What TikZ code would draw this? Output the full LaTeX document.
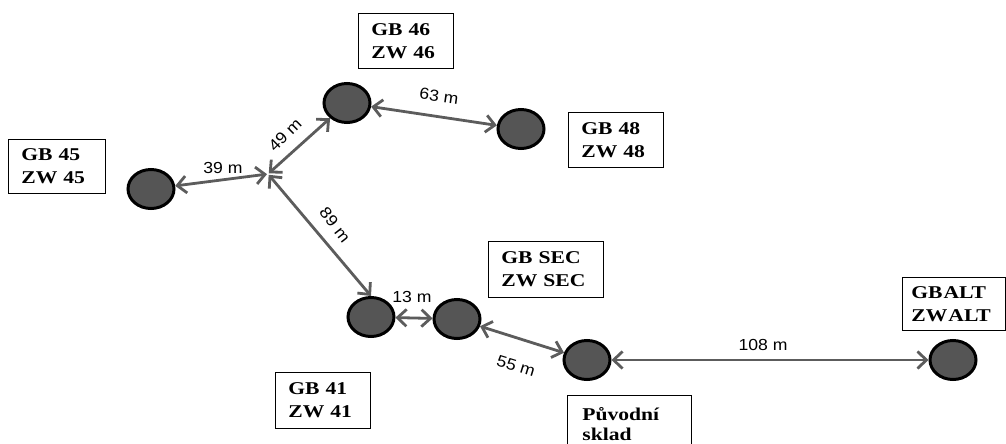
\documentclass[tikz,border=0pt]{standalone}
\usepackage{fontspec}
\newfontfamily\boxfont[FakeStretch=1.2]{Liberation Serif}
\newfontfamily\distfont[FakeStretch=1.1]{Liberation Sans}
\usetikzlibrary{arrows.meta,shapes.geometric}
\definecolor{wire}{HTML}{5C5C5C}
\definecolor{well}{HTML}{555555}

\begin{document}
\begin{tikzpicture}[x=1pt,y=-1pt,
  site/.style={ellipse, draw=black, line width=3pt, fill=well,
    minimum width=46pt, minimum height=39pt, inner sep=0pt},
  tag/.style={draw=black, line width=0.8pt, anchor=north west, align=left,
    inner xsep=13pt, inner ysep=0pt,
    font=\boxfont\bfseries\fontsize{18}{23}\selectfont},
  link/.style={draw=wire, line width=2.8pt,
    {Straight Barb[length=9pt,width=17pt]}-{Straight Barb[length=9pt,width=17pt]}},
  dist/.style={font=\distfont\fontsize{16}{18}\selectfont, text=black, inner sep=0.5pt}]

\useasboundingbox (0,0) rectangle (1006,444);
\clip (0,0) rectangle (1006,444);

% label boxes
\node[tag, text width=69pt, minimum height=55pt] (t46) at (358,13) {GB 46\\ZW 46};
\node[tag, text width=71pt, minimum height=54pt] (t45) at (8,139) {GB 45\\ZW 45};
\node[tag, text width=69pt, minimum height=55pt] (t48) at (568,112) {GB 48\\ZW 48};
\node[tag, text width=89pt, minimum height=56pt] (tsec) at (488,241) {GB SEC\\ZW SEC};
\node[tag, text width=69pt, minimum height=56pt] (t41) at (275,372) {GB 41\\ZW 41};
\node[tag, text width=94pt, minimum height=58pt, inner xsep=15pt,
      font=\boxfont\bfseries\fontsize{18}{20}\selectfont] (tpuv) at (567,395) {Původní\\sklad};
\node[tag, text width=85pt, minimum height=53pt, inner xsep=9pt] (talt) at (902,277)
  {GB\kern1pt ALT\\ZW\kern1pt ALT};

% wells
\node[site] (c46) at (347,103) {};
\node[site] (c48) at (521,129) {};
\node[site] (c45) at (151,189) {};
\node[site] (c41) at (371,317) {};
\node[site] (csec) at (457,319) {};
\node[site] (cpuv) at (587,360) {};
\node[site] (calt) at (953,360) {};
\coordinate (J) at (268,174);

% distances
\draw[link, shorten >=1pt] (c45) -- (J);
\draw[link, shorten <=1pt] (J) -- (c46);
\draw[link, shorten <=1pt] (J) -- (c41.north);
\draw[link] (c46) -- (c48);
\draw[link] (c41) -- (csec);
\draw[link] (csec) -- (cpuv);
\draw[link] (cpuv) -- (calt);

\node[dist] (d39) at (223,168) {39 m};
\node[dist, rotate=45] (d49) at (285,135) {49 m};
\node[dist, rotate=-52] (d89) at (335,225) {89 m};
\node[dist, rotate=-8] (d63) at (439,96) {63 m};
\node[dist] (d13) at (412,297) {13 m};
\node[dist, rotate=-17] (d55) at (516,366) {55 m};
\node[dist] (d108) at (763,345) {108 m};
\end{tikzpicture}
\end{document}
